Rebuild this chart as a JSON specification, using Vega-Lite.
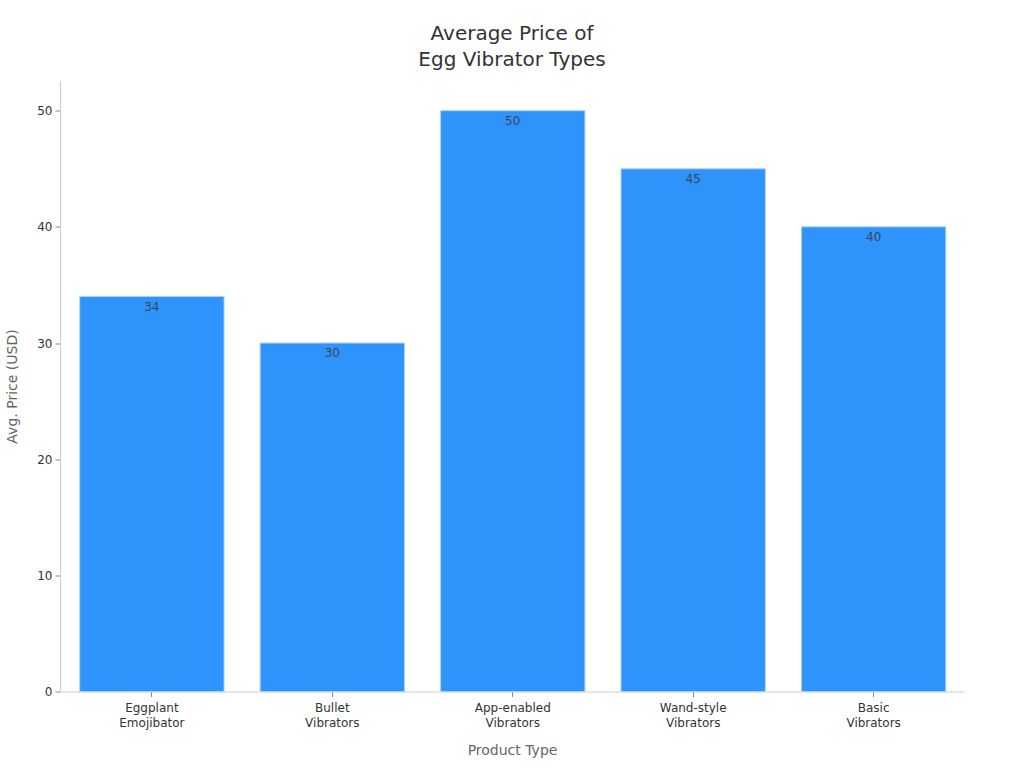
{
  "$schema": "https://vega.github.io/schema/vega-lite/v6.json",
  "width": 904,
  "height": 611,
  "padding": {"left": 60, "top": 80.5, "right": 60, "bottom": 76.5},
  "autosize": "none",
  "background": "white",
  "title": {
    "text": ["Average Price of", "Egg Vibrator Types"],
    "font": "DejaVu Sans",
    "fontSize": 20,
    "fontWeight": "normal",
    "color": "#333333",
    "anchor": "middle",
    "lineHeight": 26,
    "offset": 11
  },
  "data": {
    "values": [
      {"type": "Eggplant|Emojibator", "price": 34},
      {"type": "Bullet|Vibrators", "price": 30},
      {"type": "App-enabled|Vibrators", "price": 50},
      {"type": "Wand-style|Vibrators", "price": 45},
      {"type": "Basic|Vibrators", "price": 40}
    ]
  },
  "config": {"view": {"stroke": null}},
  "encoding": {
    "x": {
      "field": "type",
      "type": "nominal",
      "sort": null,
      "title": "Product Type",
      "scale": {"paddingInner": 0.2, "paddingOuter": 0.105, "align": 0.52},
      "axis": {
        "labelAngle": 0,
        "labelExpr": "split(datum.label, '|')",
        "labelFont": "DejaVu Sans",
        "labelFontSize": 12,
        "labelColor": "#333333",
        "labelLineHeight": 15,
        "labelPadding": 6,
        "tickColor": "#888888",
        "tickSize": 5,
        "domainColor": "#cccccc",
        "titleFont": "DejaVu Sans",
        "titleFontSize": 14,
        "titleFontWeight": "normal",
        "titleColor": "#666666",
        "titlePadding": 15
      }
    },
    "y": {
      "field": "price",
      "type": "quantitative",
      "title": "Avg. Price (USD)",
      "scale": {"domain": [0, 52.6], "nice": false},
      "axis": {
        "values": [0, 10, 20, 30, 40, 50],
        "grid": false,
        "labelFont": "DejaVu Sans",
        "labelFontSize": 12,
        "labelColor": "#333333",
        "labelPadding": 3,
        "tickColor": "#888888",
        "tickSize": 5,
        "domainColor": "#cccccc",
        "titleFont": "DejaVu Sans",
        "titleFontSize": 14,
        "titleFontWeight": "normal",
        "titleColor": "#666666",
        "titlePadding": 17
      }
    }
  },
  "layer": [
    {"mark": {"type": "bar", "color": "#2E93FA", "stroke": "#a9d3fc", "strokeWidth": 1}},
    {
      "mark": {"type": "text", "baseline": "top", "dy": 5, "font": "DejaVu Sans", "fontSize": 12, "color": "#3d4650"},
      "encoding": {"text": {"field": "price", "type": "quantitative"}}
    }
  ]
}
